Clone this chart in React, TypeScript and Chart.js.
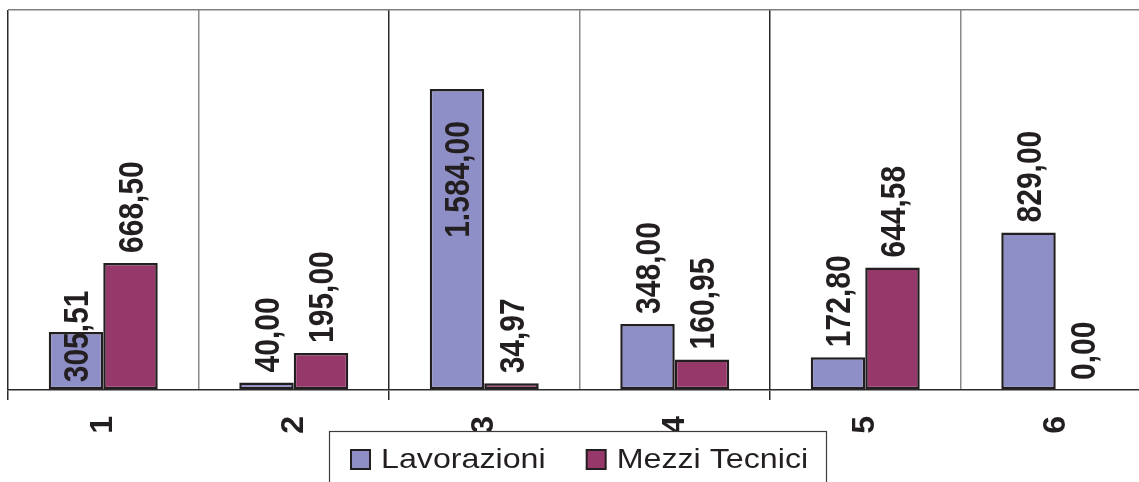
import React, { useEffect, useRef } from 'react';
import { Chart, registerables } from 'chart.js';

Chart.register(...registerables);

// ---- data ----
const categories = ['1', '2', '3', '4', '5', '6'];
const seriesNames = ['Lavorazioni', 'Mezzi Tecnici'];
const lavorazioni = [305.51, 40.0, 1584.0, 348.0, 172.8, 829.0];
const mezziTecnici = [668.5, 195.0, 34.97, 160.95, 644.58, 0.0];
const seriesColors = ['#8f8fc7', '#97386a'];
const lavorazioniLabelPos = ['base', 'end', 'inside', 'end', 'end', 'end'];
const mezziLabelPos = ['end', 'end', 'end', 'end', 'end', 'end'];
const yMin = 0;
const yMax = 2000;

const INK = '#231f20';
const FONT = '"Liberation Sans", Arial, Helvetica, sans-serif';

function fmtIt(v: number): string {
  const [i, d] = v.toFixed(2).split('.');
  return i.replace(/\B(?=(\d{3})+(?!\d))/g, '.') + ',' + d;
}

const valueLabelPlugin = {
  id: 'valueLabels',
  afterDatasetsDraw(chart: any) {
    const ctx = chart.ctx;
    const positions = [lavorazioniLabelPos, mezziLabelPos];
    const size = 30;
    chart.data.datasets.forEach((ds: any, di: number) => {
      const meta = chart.getDatasetMeta(di);
      meta.data.forEach((el: any, i: number) => {
        const { x, y, base } = el.getProps(['x', 'y', 'base'], true);
        const text = fmtIt(ds.data[i]);
        const pos = positions[di][i];
        let ay: number;
        let align: CanvasTextAlign;
        if (pos === 'inside') {
          ay = y + 32;
          align = 'right';
        } else if (pos === 'base') {
          ay = base - 7;
          align = 'left';
        } else {
          ay = y - 10;
          align = 'left';
        }
        ctx.save();
        ctx.translate(x, ay);
        ctx.scale(1.15, 1);
        ctx.rotate(-Math.PI / 2);
        ctx.font = `bold ${size}px ${FONT}`;
        ctx.fillStyle = INK;
        ctx.textAlign = align;
        ctx.textBaseline = 'alphabetic';
        ctx.fillText(text, 0, (size * 0.716) / 2);
        ctx.restore();
      });
    });
  },
};

const legendPlugin = {
  id: 'boxLegend',
  afterDraw(chart: any) {
    const ctx = chart.ctx;
    ctx.save();
    const bx = 329.5;
    const by = 431.5;
    ctx.fillStyle = '#ffffff';
    ctx.fillRect(bx, by, 497, 80);
    ctx.strokeStyle = '#3c3c3c';
    ctx.lineWidth = 1.2;
    ctx.strokeRect(bx, by, 497, 80);
    const size = 28;
    const sx = 1.15;
    ctx.font = `${size}px ${FONT}`;
    let x = 351;
    chart.data.datasets.forEach((ds: any) => {
      ctx.fillStyle = ds.backgroundColor;
      ctx.fillRect(x, 450, 19, 19);
      ctx.strokeStyle = INK;
      ctx.lineWidth = 2;
      ctx.strokeRect(x, 450, 19, 19);
      const tx = x + 30;
      ctx.save();
      ctx.translate(tx, 468);
      ctx.scale(sx, 1);
      ctx.fillStyle = INK;
      ctx.textAlign = 'left';
      ctx.textBaseline = 'alphabetic';
      ctx.fillText(ds.label, 0, 0);
      const w = ctx.measureText(ds.label).width;
      ctx.restore();
      x = tx + w * sx + 41;
    });
    ctx.restore();
  },
};

export default function App() {
  const ref = useRef<HTMLCanvasElement | null>(null);

  useEffect(() => {
    if (!ref.current) return;
    const chart = new Chart(ref.current, {
      type: 'bar',
      data: {
        labels: categories,
        datasets: [
          {
            label: seriesNames[0],
            data: lavorazioni,
            backgroundColor: seriesColors[0],
            borderColor: INK,
            borderWidth: 2.5,
            borderSkipped: false,
            categoryPercentage: 0.572,
            barPercentage: 1.0,
          },
          {
            label: seriesNames[1],
            data: mezziTecnici,
            backgroundColor: seriesColors[1],
            borderColor: INK,
            borderWidth: 2.5,
            borderSkipped: false,
            categoryPercentage: 0.572,
            barPercentage: 1.0,
          },
        ],
      },
      options: {
        responsive: false,
        devicePixelRatio: 1,
        animation: false,
        layout: { padding: { left: 8, top: 10, right: 19, bottom: 0 } },
        plugins: {
          legend: { display: false },
          tooltip: { enabled: false },
        },
        scales: {
          x: {
            offset: true,
            afterFit: (scale: any) => {
              scale.height = 92;
            },
            grid: {
              offset: true,
              display: true,
              drawOnChartArea: true,
              drawTicks: true,
              tickLength: 10,
              lineWidth: 1.5,
              color: (c: any) => (c.index % 2 === 0 ? '#2a2a2a' : '#8a8a8a'),
              tickColor: (c: any) => (c.index % 2 === 0 ? '#2a2a2a' : 'rgba(0,0,0,0)'),
            },
            border: { display: true, color: '#2a2a2a', width: 1.5 },
            ticks: {
              autoSkip: false,
              minRotation: 90,
              maxRotation: 90,
              padding: 16,
              color: INK,
              font: { family: FONT, size: 32, weight: 'bold' },
            },
          },
          y: {
            min: yMin,
            max: yMax,
            display: true,
            ticks: { display: false, stepSize: 500 },
            border: { display: false },
            grid: {
              drawTicks: false,
              lineWidth: 1.5,
              color: (c: any) => (c.tick && c.tick.value === yMax ? '#808080' : 'rgba(0,0,0,0)'),
            },
          },
        },
      },
      plugins: [valueLabelPlugin, legendPlugin],
    });
    return () => chart.destroy();
  }, []);

  return (
    <div
      style={{
        position: 'fixed',
        left: 0,
        top: 0,
        width: 1139,
        height: 482,
        overflow: 'hidden',
        background: '#ffffff',
      }}
    >
      <canvas ref={ref} width={1170} height={482} style={{ display: 'block', width: 1170, height: 482 }} />
    </div>
  );
}
